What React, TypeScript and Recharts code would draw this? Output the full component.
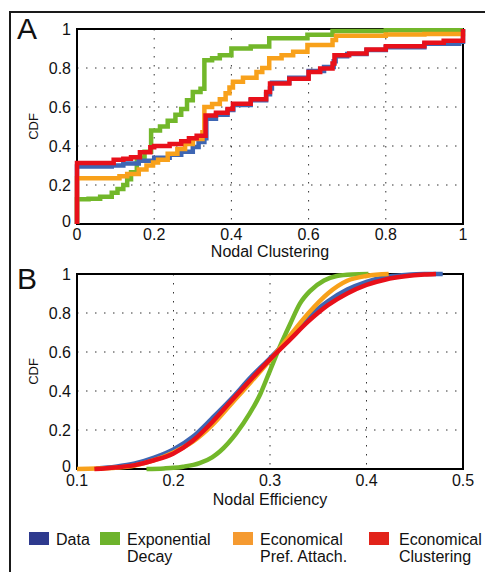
import React from "react";
import { CartesianGrid, Line, LineChart, ReferenceArea, XAxis, YAxis } from "recharts";

// panel A: CDF of nodal clustering, step curves as [x, cdf]
const clusterData = [
  [0, 0], [0, 0.295], [0.09, 0.3], [0.12, 0.31], [0.16, 0.325], [0.2, 0.34], [0.24, 0.355],
  [0.27, 0.37], [0.3, 0.395], [0.315, 0.42], [0.33, 0.44], [0.335, 0.54], [0.36, 0.56],
  [0.39, 0.585], [0.405, 0.61], [0.45, 0.635], [0.49, 0.665], [0.5, 0.695], [0.505, 0.725],
  [0.55, 0.75], [0.6, 0.785], [0.64, 0.805], [0.665, 0.835], [0.67, 0.86], [0.7, 0.872],
  [0.75, 0.892], [0.8, 0.907], [0.9, 0.925], [0.99, 0.935], [1, 1],
];
const clusterExp = [
  [0, 0], [0, 0.127], [0.03, 0.13], [0.06, 0.14], [0.09, 0.16], [0.105, 0.18], [0.12, 0.2],
  [0.13, 0.23], [0.14, 0.265], [0.155, 0.34], [0.175, 0.37], [0.192, 0.48], [0.215, 0.5],
  [0.235, 0.53], [0.255, 0.56], [0.27, 0.59], [0.285, 0.634], [0.3, 0.677], [0.32, 0.694],
  [0.33, 0.84], [0.35, 0.85], [0.37, 0.866], [0.4, 0.9], [0.45, 0.91], [0.498, 0.952],
  [0.597, 0.97], [0.662, 0.99], [0.8, 0.993], [1, 0.995],
];
const clusterPref = [
  [0, 0], [0, 0.235], [0.11, 0.245], [0.13, 0.256], [0.16, 0.28], [0.18, 0.3], [0.197, 0.316],
  [0.21, 0.33], [0.235, 0.36], [0.26, 0.385], [0.28, 0.41], [0.3, 0.436], [0.325, 0.47],
  [0.33, 0.6], [0.35, 0.615], [0.37, 0.64], [0.385, 0.67], [0.395, 0.7], [0.404, 0.73],
  [0.43, 0.75], [0.465, 0.78], [0.48, 0.8], [0.498, 0.85], [0.53, 0.865], [0.56, 0.883],
  [0.597, 0.918], [0.662, 0.943], [0.671, 0.965], [0.8, 0.972], [0.9, 0.975], [1, 0.978],
];
const clusterClust = [
  [0, 0], [0, 0.313], [0.09, 0.313], [0.095, 0.33], [0.12, 0.335], [0.14, 0.342], [0.163, 0.368],
  [0.19, 0.393], [0.2, 0.4], [0.24, 0.41], [0.27, 0.425], [0.29, 0.44], [0.31, 0.453],
  [0.333, 0.556], [0.36, 0.57], [0.39, 0.59], [0.404, 0.617], [0.45, 0.64], [0.49, 0.677],
  [0.5, 0.72], [0.55, 0.745], [0.6, 0.78], [0.63, 0.797], [0.662, 0.823], [0.667, 0.866],
  [0.705, 0.875], [0.75, 0.895], [0.8, 0.912], [0.9, 0.93], [0.95, 0.94], [1, 1],
];

// panel B: CDF of nodal efficiency, [x, cdf]
const effData = [
  [0.12, 0.003], [0.14, 0.012], [0.16, 0.028], [0.18, 0.058], [0.2, 0.1], [0.22, 0.165],
  [0.24, 0.26], [0.26, 0.36], [0.28, 0.47], [0.3, 0.568], [0.32, 0.67], [0.34, 0.78],
  [0.36, 0.86], [0.38, 0.92], [0.4, 0.96], [0.42, 0.985], [0.44, 0.995], [0.46, 1], [0.479, 1],
];
const effExp = [
  [0.172, 0], [0.19, 0.003], [0.2, 0.006], [0.21, 0.012], [0.227, 0.03], [0.24, 0.06],
  [0.248, 0.09], [0.265, 0.183], [0.279, 0.285], [0.29, 0.385], [0.3, 0.505], [0.31, 0.625],
  [0.321, 0.745], [0.331, 0.848], [0.342, 0.915], [0.356, 0.967], [0.369, 0.99],
  [0.385, 0.998], [0.402, 1],
];
const effPref = [
  [0.1, 0], [0.12, 0.002], [0.14, 0.006], [0.16, 0.018], [0.18, 0.045], [0.2, 0.085],
  [0.22, 0.14], [0.24, 0.225], [0.26, 0.335], [0.28, 0.445], [0.3, 0.559], [0.32, 0.68],
  [0.34, 0.8], [0.36, 0.9], [0.38, 0.965], [0.4, 0.99], [0.423, 1],
];
const effClust = [
  [0.118, 0], [0.14, 0.008], [0.16, 0.02], [0.18, 0.045], [0.2, 0.08], [0.22, 0.145],
  [0.24, 0.24], [0.26, 0.35], [0.28, 0.458], [0.3, 0.562], [0.32, 0.66], [0.34, 0.758],
  [0.36, 0.84], [0.38, 0.9], [0.4, 0.944], [0.42, 0.972], [0.44, 0.988], [0.46, 0.997],
  [0.472, 1],
];

const clusterTicks = [0, 0.2, 0.4, 0.6, 0.8, 1];
const effTicks = [0.1, 0.2, 0.3, 0.4, 0.5];
const cdfTicks = [0, 0.2, 0.4, 0.6, 0.8, 1];

const FONT = "'Liberation Sans', Arial, Helvetica, sans-serif";

// drawn in this order (red ends up on top)
const series = [
  { key: "exp", color: "#72b72a", swatch: "#6db32c", label: ["Exponential", "Decay"], a: clusterExp, b: effExp },
  { key: "data", color: "#3e66b3", swatch: "#2e3a8e", label: ["Data"], a: clusterData, b: effData },
  { key: "pref", color: "#f8a11b", swatch: "#f59a30", label: ["Economical", "Pref. Attach."], a: clusterPref, b: effPref },
  { key: "clust", color: "#e8101a", swatch: "#e2231a", label: ["Economical", "Clustering"], a: clusterClust, b: effClust },
];

const legendOrder = ["data", "exp", "pref", "clust"];
const legendX = [29, 100, 233, 369];

const toPoints = (rows: number[][]) => rows.map(([x, y]) => ({ x, y }));

// y tick: the "0" sits a little above the axis, as in the original figure
function YTick({ x, y, payload }: any) {
  return (
    <text
      x={x}
      y={y + (payload.value === 0 ? -3 : 0)}
      dy="0.355em"
      textAnchor="end"
      fill="#111"
      fontSize={16}
      fontFamily={FONT}
    >
      {String(payload.value)}
    </text>
  );
}

function CdfPanel({
  top,
  panel,
  xTicks,
  xDomain,
  xLabel,
  labelOffset,
  tickGap,
  curve,
}: {
  top: number;
  panel: "a" | "b";
  xTicks: number[];
  xDomain: [number, number];
  xLabel: string;
  labelOffset: number;
  tickGap: number;
  curve: "stepAfter" | "monotone";
}) {
  return (
    <div style={{ position: "absolute", left: 0, top }}>
      <LineChart width={485} height={263} margin={{ top: 29, right: 22, left: -11, bottom: 19 }}>
        <CartesianGrid stroke="#333" strokeDasharray="1.5 7.5" />
        <XAxis
          type="number"
          dataKey="x"
          domain={xDomain}
          ticks={xTicks}
          interval={0}
          axisLine={false}
          tickLine={false}
          tickSize={0}
          tickMargin={tickGap}
          height={20}
          tick={{ fill: "#111", fontSize: 16, fontFamily: FONT }}
          label={{ value: xLabel, position: "bottom", offset: labelOffset, fill: "#111", fontSize: 16, fontFamily: FONT }}
        />
        <YAxis
          type="number"
          domain={[0, 1]}
          ticks={cdfTicks}
          interval={0}
          axisLine={false}
          tickLine={false}
          tickSize={0}
          tickMargin={6}
          width={88}
          tick={<YTick />}
          label={{ value: "CDF", angle: -90, position: "center", fill: "#111", fontSize: 13, fontFamily: FONT }}
        />
        <ReferenceArea x1={xDomain[0]} x2={xDomain[1]} y1={0} y2={1} fill="none" stroke="#000" strokeWidth={2} />
        {series.map((s) => (
          <Line
            key={s.key}
            data={toPoints(panel === "a" ? s.a : s.b)}
            dataKey="y"
            type={curve}
            stroke={s.color}
            strokeWidth={4.5}
            dot={false}
            activeDot={false}
            isAnimationActive={false}
          />
        ))}
      </LineChart>
    </div>
  );
}

export default function App() {
  return (
    <div
      style={{
        position: "absolute",
        left: 0,
        top: 0,
        width: 485,
        height: 572,
        overflow: "hidden",
        background: "#fff",
        fontFamily: FONT,
        color: "#111",
      }}
    >
      <div
        style={{
          position: "absolute",
          left: 9,
          top: 11,
          width: 600,
          height: 600,
          border: "2px solid #1a1a1a",
        }}
      />
      <CdfPanel
        top={0}
        panel="a"
        xTicks={clusterTicks}
        xDomain={[0, 1]}
        xLabel="Nodal Clustering"
        labelOffset={2}
        tickGap={5}
        curve="stepAfter"
      />
      <CdfPanel
        top={245}
        panel="b"
        xTicks={effTicks}
        xDomain={[0.1, 0.5]}
        xLabel="Nodal Efficiency"
        labelOffset={5}
        tickGap={6}
        curve="monotone"
      />
      <div style={{ position: "absolute", left: 17, top: 14, fontSize: 30, lineHeight: "30px" }}>A</div>
      <div style={{ position: "absolute", left: 17, top: 264, fontSize: 30, lineHeight: "30px" }}>B</div>
      {legendOrder.map((k, i) => {
        const s = series.find((d) => d.key === k)!;
        return (
          <div key={k}>
            <div
              style={{
                position: "absolute",
                left: legendX[i],
                top: 532,
                width: 20,
                height: 13,
                background: s.swatch,
              }}
            />
            <div
              style={{
                position: "absolute",
                left: legendX[i] + (i === 3 ? 30 : 27),
                top: 532,
                fontSize: 16,
                lineHeight: "16.5px",
                whiteSpace: "nowrap",
              }}
            >
              {s.label.map((t) => (
                <div key={t}>{t}</div>
              ))}
            </div>
          </div>
        );
      })}
    </div>
  );
}
